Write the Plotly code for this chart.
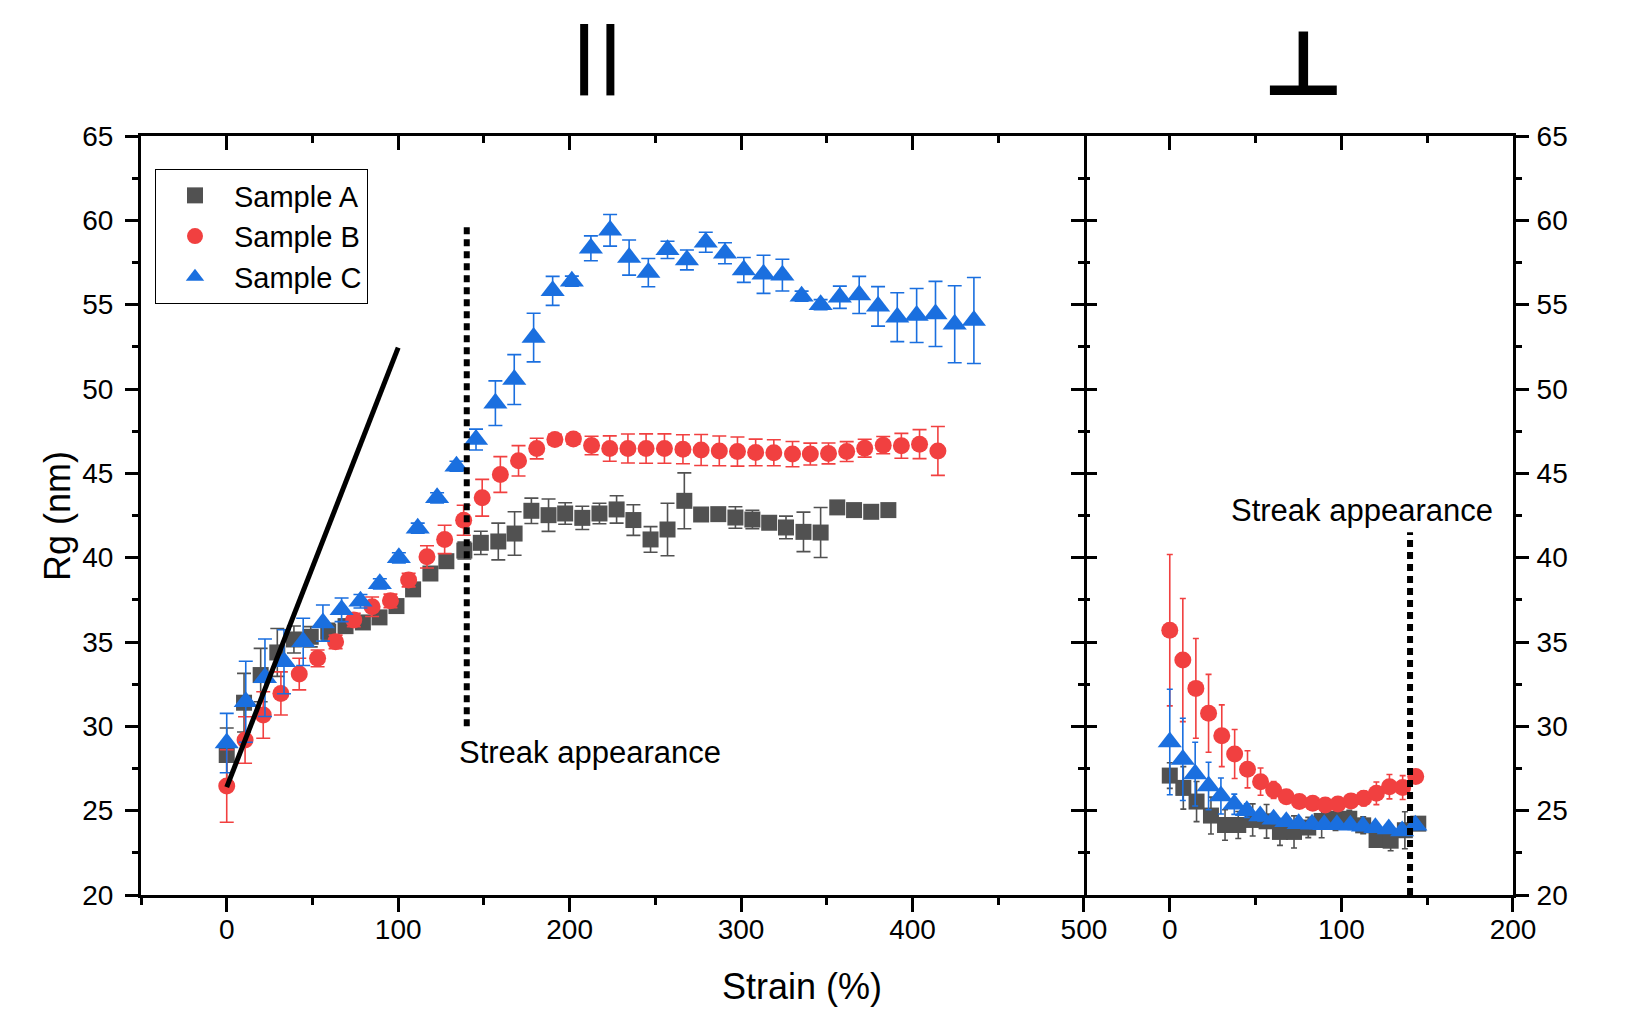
import plotly.graph_objects as go

# ---------------- data: parallel direction (left panel) ----------------
a_strain = [0.0, 10.1, 19.8, 29.5, 39.2, 49.0, 59.2, 69.3, 79.4, 89.1, 99.0, 108.7, 118.8, 128.1,
            138.6, 148.2, 158.4, 167.9, 177.7, 187.7, 197.4, 207.4, 217.4, 227.4, 237.2, 247.2,
            257.1, 266.9, 276.7, 286.7, 296.7, 306.6, 316.4, 326.2, 336.4, 346.4, 356.1, 365.9,
            375.9, 385.9]
a_rg = [28.3, 31.4, 33.04, 34.38, 35.15, 35.31, 35.61, 35.94, 36.16, 36.46, 37.13, 38.12, 39.06,
        39.79, 40.42, 40.88, 40.96, 41.43, 42.78, 42.52, 42.62, 42.36, 42.62, 42.86, 42.23, 41.08,
        41.67, 43.37, 42.56, 42.58, 42.38, 42.26, 42.07, 41.79, 41.53, 41.49, 42.98, 42.82, 42.72,
        42.82]
a_err = [1.6, 1.74, 1.58, 1.42, 0.8, 0.6, 0.5, 0.4, 0.3, 0.3, 0.3, 0.3, 0.3, 0.3, 0.5, 0.69,
         1.09, 1.29, 0.75, 0.96, 0.64, 0.69, 0.61, 0.81, 0.91, 0.76, 1.56, 1.66, 0.3, 0.3, 0.64,
         0.55, 0.3, 0.67, 1.17, 1.48, 0.3, 0.3, 0.3, 0.3]

b_strain = [0.0, 10.7, 21.3, 31.6, 42.3, 53.0, 63.5, 74.1, 84.8, 95.5, 106.1, 116.8, 127.1, 138.2,
            149.0, 159.6, 170.2, 180.8, 191.4, 202.2, 212.8, 223.4, 234.0, 244.6, 255.3, 266.1,
            276.7, 287.3, 297.9, 308.5, 319.1, 330.0, 340.4, 351.0, 361.6, 372.1, 382.9, 393.5,
            404.1, 414.8]
b_rg = [26.46, 29.19, 30.67, 31.95, 33.10, 34.03, 35.01, 36.3, 37.09, 37.44, 38.67, 40.05, 41.08,
        42.22, 43.55, 44.93, 45.74, 46.47, 47.01, 47.03, 46.65, 46.47, 46.47, 46.47, 46.47, 46.43,
        46.38, 46.33, 46.29, 46.24, 46.22, 46.14, 46.14, 46.18, 46.29, 46.49, 46.67, 46.63, 46.73,
        46.33]
b_err = [2.15, 1.38, 1.38, 1.28, 0.94, 0.5, 0.4, 0.4, 0.58, 0.4, 0.4, 0.66, 0.84, 0.89, 1.09,
         1.06, 0.9, 0.61, 0.3, 0.3, 0.55, 0.75, 0.86, 0.87, 0.87, 0.86, 0.92, 0.88, 0.86, 0.79,
         0.77, 0.75, 0.65, 0.62, 0.59, 0.53, 0.51, 0.74, 0.86, 1.45]

c_strain = [0.0, 11.1, 22.3, 33.4, 44.6, 56.1, 67.0, 78.0, 89.3, 100.4, 111.4, 122.7, 134.0, 145.4,
            156.7, 167.7, 179.0, 190.1, 201.3, 212.4, 223.6, 234.7, 245.9, 257.1, 268.4, 279.4,
            290.6, 301.6, 313.1, 324.1, 335.3, 346.4, 357.6, 368.9, 379.9, 391.1, 402.4, 413.4,
            424.6, 435.8]
c_rg = [29.01, 31.46, 32.88, 33.83, 35.01, 36.12, 36.91, 37.42, 38.45, 39.99, 41.75, 43.55, 45.42,
        47.0, 49.16, 50.56, 53.05, 55.82, 56.39, 58.34, 59.41, 57.79, 56.90, 58.25, 57.65, 58.70,
        58.05, 57.06, 56.80, 56.75, 55.50, 55.0, 55.44, 55.58, 54.9, 54.26, 54.36, 54.45, 53.84,
        54.06]
c_err = [1.76, 2.4, 2.3, 1.9, 1.4, 1.07, 0.7, 0.4, 0.3, 0.3, 0.3, 0.3, 0.3, 0.62, 1.32, 1.48, 1.44,
         0.86, 0.3, 0.74, 0.94, 1.04, 0.84, 0.51, 0.59, 0.59, 0.62, 0.74, 1.13, 0.94, 0.3, 0.3,
         0.66, 1.1, 1.17, 1.45, 1.6, 1.93, 2.28, 2.55]

# ---------------- data: perpendicular direction (right panel) ----------------
a_perp_strain = [0.0, 7.9, 15.6, 24.0, 32.2, 39.9, 48.3, 56.4, 64.2, 72.4, 80.7, 88.5, 96.6,
                 104.6, 112.7, 120.5, 128.7, 137.0, 144.8]
a_perp_rg = [27.08, 26.35, 25.54, 24.71, 24.15, 24.15, 24.45, 24.37, 23.74, 23.74, 24.0, 24.39,
             24.52, 24.52, 24.13, 23.26, 23.22, 23.84, 24.23]
a_perp_err = [0.76, 1.26, 1.19, 1.09, 0.9, 0.8, 0.95, 1.0, 0.8, 0.95, 0.6, 1.0, 0.7, 0.5, 0.5,
              0.4, 0.6, 1.1, 0.3]

b_perp_strain = [0.0, 7.6, 15.2, 22.6, 30.3, 37.8, 45.3, 52.9, 60.5, 67.9, 75.5, 83.3, 90.6, 98.0,
                 105.6, 113.0, 120.4, 128.0, 135.7, 143.3]
b_perp_rg = [35.70, 33.93, 32.25, 30.77, 29.44, 28.36, 27.45, 26.72, 26.23, 25.83, 25.54, 25.44,
             25.34, 25.40, 25.58, 25.73, 26.03, 26.42, 26.37, 27.02]
b_perp_err = [4.49, 3.65, 2.96, 2.31, 1.83, 1.45, 1.1, 0.81, 0.5, 0.4, 0.3, 0.3, 0.3, 0.3, 0.35,
              0.45, 0.67, 0.72, 0.71, 0.3]

c_perp_strain = [0.0, 7.6, 14.8, 22.6, 29.8, 37.6, 44.9, 52.7, 60.5, 67.9, 75.1, 82.9, 90.0, 97.4,
                 105.2, 112.6, 119.8, 127.6, 135.4, 143.1]
c_perp_rg = [29.07, 28.04, 27.17, 26.46, 25.87, 25.38, 25.0, 24.69, 24.49, 24.35, 24.23, 24.19,
             24.17, 24.17, 24.13, 24.07, 23.99, 23.92, 23.8, 24.13]
c_perp_err = [3.13, 2.44, 1.89, 1.41, 1.07, 0.6, 0.4, 0.3, 0.25, 0.25, 0.25, 0.25, 0.25, 0.25,
              0.25, 0.25, 0.25, 0.25, 0.25, 0.25]

# guide lines
streak_strain = 140
streak_par_rg = [30, 59.7]
streak_perp_rg = [20, 41.5]
slope_strain = [0, 100]
slope_rg = [26.4, 52.45]

series_names = ["Sample A", "Sample B", "Sample C"]
colors = ["#515151", "#F14040", "#1A6FDF"]
symbols = ["square", "circle", "triangle-up"]
sizes = [16, 17, 21]

x_ticks_left = [0, 100, 200, 300, 400, 500]
x_ticks_right = [0, 100, 200]
y_ticks = [20, 25, 30, 35, 40, 45, 50, 55, 60, 65]

FONT = "Arial, Liberation Sans, sans-serif"

fig = go.Figure()

left_sets = [(a_strain, a_rg, a_err), (b_strain, b_rg, b_err), (c_strain, c_rg, c_err)]
right_sets = [(a_perp_strain, a_perp_rg, a_perp_err), (b_perp_strain, b_perp_rg, b_perp_err),
              (c_perp_strain, c_perp_rg, c_perp_err)]

for i, (xs, ys, es) in enumerate(left_sets):
    fig.add_trace(go.Scatter(
        x=xs, y=ys, mode="markers", name=series_names[i],
        marker=dict(symbol=symbols[i], size=sizes[i], color=colors[i], line=dict(width=0)),
        error_y=dict(type="data", array=es, visible=True, color=colors[i], thickness=1.6, width=7),
        xaxis="x", yaxis="y", showlegend=True))

for i, (xs, ys, es) in enumerate(right_sets):
    fig.add_trace(go.Scatter(
        x=xs, y=ys, mode="markers", name=series_names[i],
        marker=dict(symbol=symbols[i], size=sizes[i], color=colors[i], line=dict(width=0)),
        error_y=dict(type="data", array=es, visible=True, color=colors[i], thickness=1.6, width=3),
        xaxis="x2", yaxis="y2", showlegend=False))

# guide lines (drawn on top)
fig.add_trace(go.Scatter(x=slope_strain, y=slope_rg, mode="lines",
                         line=dict(color="black", width=5), showlegend=False,
                         xaxis="x", yaxis="y", hoverinfo="skip"))
fig.add_trace(go.Scatter(x=[streak_strain, streak_strain], y=streak_par_rg, mode="lines",
                         line=dict(color="black", width=6, dash="7px,5px"), showlegend=False,
                         xaxis="x", yaxis="y", hoverinfo="skip"))
fig.add_trace(go.Scatter(x=[streak_strain, streak_strain], y=streak_perp_rg, mode="lines",
                         line=dict(color="black", width=6, dash="7px,5px"), showlegend=False,
                         xaxis="x2", yaxis="y2", hoverinfo="skip"))

# invisible carriers so that the frame axes (top / inner sides) get drawn
for xa, ya, xv in [("x3", "y", x_ticks_left), ("x", "y3", x_ticks_left),
                   ("x4", "y2", x_ticks_right), ("x2", "y4", x_ticks_right)]:
    fig.add_trace(go.Scatter(x=[xv[0]], y=[y_ticks[0]], mode="markers",
                             marker=dict(opacity=0, size=1), showlegend=False,
                             hoverinfo="skip", xaxis=xa, yaxis=ya))

split = 0.6873
tickfont = dict(family=FONT, size=28, color="black")

def xax(domain, rng, vals, side, ticks, labels, anchor, overlay=None):
    d = dict(domain=domain, range=rng, tickmode="array", tickvals=vals,
             ticktext=[str(v) for v in vals], side=side, ticks=ticks, ticklen=14, tickwidth=3,
             tickcolor="black", showline=True, linewidth=3, linecolor="black",
             showgrid=False, zeroline=False, showticklabels=labels, tickfont=tickfont,
             minor=dict(dtick=50, tick0=0, ticks=ticks, ticklen=7, tickwidth=3,
                        tickcolor="black", showgrid=False),
             anchor=anchor, fixedrange=True, ticklabelstandoff=-7)
    if overlay:
        d["overlaying"] = overlay
    return d

def yax(rng, side, ticks, labels, anchor, standoff, overlay=None, line=True):
    d = dict(domain=[0, 1], range=rng, tickmode="array", tickvals=y_ticks,
             ticktext=[str(v) for v in y_ticks], side=side, ticks=ticks, ticklen=13, tickwidth=3,
             tickcolor="black", showline=line, linewidth=3, linecolor="black",
             showgrid=False, zeroline=False, showticklabels=labels, tickfont=tickfont,
             minor=dict(dtick=2.5, tick0=0, ticks=ticks, ticklen=6, tickwidth=3,
                        tickcolor="black", showgrid=False),
             anchor=anchor, fixedrange=True, ticklabelstandoff=standoff)
    if overlay:
        d["overlaying"] = overlay
    return d

fig.update_layout(
    width=1643, height=1034,
    margin=dict(l=133, r=138, t=128, b=147),
    paper_bgcolor="white", plot_bgcolor="white",
    font=dict(family=FONT, color="black"),
    xaxis=xax([0, split], [-50, 500], x_ticks_left, "bottom", "outside", True, "y"),
    xaxis3=xax([0, split], [-50, 500], x_ticks_left, "top", "inside", False, "y", "x"),
    yaxis=yax([20, 65], "left", "outside", True, "x", 6),
    yaxis3=yax([20, 65], "right", "inside", False, "x", 0, "y"),
    xaxis2=xax([split, 1], [-50, 200], x_ticks_right, "bottom", "outside", True, "y2"),
    xaxis4=xax([split, 1], [-50, 200], x_ticks_right, "top", "inside", False, "y2", "x2"),
    yaxis2=yax([20, 65], "right", "outside", True, "x2", 2),
    yaxis4=yax([20, 65], "left", "inside", False, "x2", 0, "y2", line=False),
    legend=dict(x=0.0102, y=0.9565, xanchor="left", yanchor="top",
                bordercolor="black", borderwidth=1, bgcolor="white",
                font=dict(family=FONT, size=29, color="black"),
                itemwidth=68, tracegroupgap=0),
    showlegend=True,
)

ann = [
    dict(text="<b>||</b>", x=0.3324, y=1.109, font=dict(family="DejaVu Sans", size=72, color="black"),
         xanchor="center", yanchor="middle"),
    dict(text="<b>⊥</b>", x=0.8469, y=1.095, font=dict(family="DejaVu Sans", size=90, color="black"),
         xanchor="center", yanchor="middle"),
    dict(text="Rg (nm)", x=-0.0612, y=0.4993, textangle=-90,
         font=dict(family=FONT, size=36, color="black"), xanchor="center", yanchor="middle"),
    dict(text="Strain (%)", x=0.4818, y=-0.1199,
         font=dict(family=FONT, size=36, color="black"), xanchor="center", yanchor="middle"),
    dict(text="Streak appearance", x=0.3269, y=0.1884,
         font=dict(family=FONT, size=31, color="black"), xanchor="center", yanchor="middle"),
    dict(text="Streak appearance", x=0.8903, y=0.5072,
         font=dict(family=FONT, size=31, color="black"), xanchor="center", yanchor="middle"),
]
for a in ann:
    a.update(xref="paper", yref="paper", showarrow=False)
fig.update_layout(annotations=ann)

fig.write_html("out.html")
